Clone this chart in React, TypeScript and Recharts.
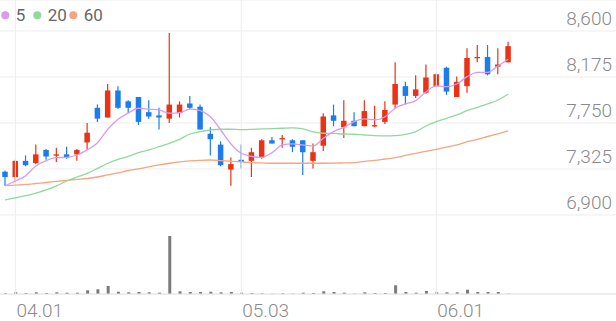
import React from 'react';
import { ComposedChart, Bar, Line, XAxis, YAxis, CartesianGrid, ReferenceLine } from 'recharts';

const dates = [
  '03.31',
  '04.01', '04.02', '04.05', '04.06', '04.07', '04.08', '04.09', '04.12', '04.13', '04.14',
  '04.15', '04.16', '04.19', '04.20', '04.21', '04.22', '04.23', '04.26', '04.27', '04.28',
  '04.29', '04.30',
  '05.03', '05.04', '05.06', '05.07', '05.10', '05.11', '05.12', '05.13', '05.14', '05.17',
  '05.18', '05.20', '05.21', '05.24', '05.25', '05.26', '05.27', '05.28', '05.31',
  '06.01', '06.02', '06.03', '06.04', '06.07', '06.08', '06.09', '06.10',
];

const opens = [
  7300, 7250, 7400, 7380, 7500, 7450, 7460, 7460, 7570, 7890,
  7800, 8050, 7950, 7990, 7850, 7820, 7790, 7840, 7930, 7900,
  7650, 7550, 7320, 7410, 7400, 7430, 7590, 7600, 7590, 7590,
  7400, 7540, 7820, 7710, 7770, 7720, 7720, 7760, 7920, 8090,
  8000, 8030, 8090, 8260, 7990, 8090, 8350, 8360, 8270, 8310,
];
const highs = [
  7310, 7410, 7450, 7550, 7510, 7520, 7530, 7510, 7750, 7920,
  8110, 8090, 7960, 7990, 7960, 7890, 8580, 7950, 8000, 7920,
  7710, 7580, 7430, 7550, 7520, 7600, 7620, 7640, 7600, 7590,
  7560, 7840, 7920, 7960, 7850, 7960, 7910, 7950, 8310, 8130,
  8190, 8290, 8210, 8270, 8180, 8440, 8470, 8470, 8440, 8500,
];
const lows = [
  7170, 7200, 7350, 7370, 7410, 7390, 7420, 7400, 7500, 7760,
  7800, 7880, 7840, 7730, 7790, 7690, 7750, 7800, 7880, 7690,
  7450, 7350, 7170, 7330, 7250, 7420, 7560, 7520, 7480, 7270,
  7330, 7490, 7720, 7610, 7720, 7720, 7710, 7740, 7880, 7920,
  7980, 8020, 8080, 8010, 7990, 8030, 8310, 8190, 8200, 8310,
];
const closes = [
  7250, 7400, 7360, 7460, 7440, 7460, 7430, 7500, 7660, 7790,
  8050, 7890, 7890, 7760, 7810, 7800, 7920, 7920, 7890, 7690,
  7600, 7360, 7370, 7390, 7480, 7590, 7560, 7610, 7530, 7480,
  7480, 7810, 7770, 7770, 7720, 7860, 7730, 7870, 8110, 8000,
  8060, 8170, 8200, 8040, 8130, 8350, 8360, 8200, 8290, 8460,
];
const volumes = [
  7000, 17000, 10000, 17000, 10000, 17000, 13000, 13000, 37000, 47000,
  80000, 23000, 17000, 20000, 17000, 13000, 580000, 27000, 20000, 20000,
  23000, 17000, 20000, 13000, 10000, 7000, 3000, 7000, 3000, 13000,
  10000, 27000, 20000, 13000, 3000, 17000, 10000, 10000, 87000, 20000,
  13000, 30000, 17000, 17000, 17000, 43000, 20000, 20000, 20000, 3000,
];
const ma5 = [
  7170, 7214, 7263, 7353, 7402, 7429, 7433, 7454, 7501, 7568,
  7692, 7784, 7842, 7886, 7877, 7870, 7840, 7845, 7877, 7864,
  7808, 7685, 7556, 7470, 7442, 7433, 7476, 7547, 7556, 7547,
  7538, 7609, 7670, 7710, 7762, 7787, 7778, 7808, 7886, 7926,
  7956, 8039, 8092, 8085, 8110, 8178, 8218, 8218, 8277, 8339,
];
const ma20 = [
  7039, 7057, 7078, 7103, 7131, 7168, 7214, 7251, 7285, 7330,
  7378, 7413, 7441, 7476, 7501, 7531, 7562, 7599, 7648, 7670,
  7685, 7692, 7692, 7688, 7690, 7695, 7697, 7701, 7704, 7695,
  7667, 7655, 7653, 7648, 7646, 7639, 7633, 7630, 7633, 7644,
  7670, 7722, 7762, 7793, 7824, 7864, 7895, 7926, 7962, 8018,
];
const ma60 = [
  7171, 7175, 7182, 7191, 7200, 7210, 7219, 7228, 7237, 7251,
  7270, 7288, 7311, 7325, 7344, 7362, 7378, 7390, 7399, 7405,
  7408, 7402, 7396, 7390, 7383, 7381, 7378, 7378, 7378, 7378,
  7378, 7378, 7379, 7381, 7383, 7395, 7404, 7417, 7429, 7450,
  7470, 7488, 7507, 7526, 7547, 7577, 7599, 7625, 7650, 7676,
];

const priceTicks = [6900, 7325, 7750, 8175, 8600];
const dateTicks = ['04.01', '05.03', '06.01'];
const emptySlots = 10;

const legendItems = [
  { name: '5', color: '#d59cf1' },
  { name: '20', color: '#8fd99d' },
  { name: '60', color: '#f8a47e' },
];

const RED = '#ea3214';
const BLUE = '#1b7deb';

const rows = Array.from({ length: dates.length + emptySlots }, (_, i) => {
  if (i < dates.length) {
    return {
      date: dates[i],
      open: opens[i],
      high: highs[i],
      low: lows[i],
      close: closes[i],
      range: [lows[i], highs[i]],
      volume: volumes[i],
      ma5: ma5[i],
      ma20: ma20[i],
      ma60: ma60[i],
    };
  }
  return { date: '_' + i };
});

const Candle = (props: any) => {
  const { x, y, width, height, payload } = props;
  if (!payload || payload.open == null) return <g />;
  const { open, close, high, low } = payload;
  const up = close >= open;
  const color = up ? RED : BLUE;
  const cx = x + width / 2;
  const top = Math.min(y, y + height);
  const h = Math.abs(height);
  const span = high - low || 1;
  const py = (v: number) => top + ((high - v) / span) * h;
  const bTop = py(Math.max(open, close));
  const bBot = py(Math.min(open, close));
  const bw = 5.5;
  return (
    <g>
      <line x1={cx} x2={cx} y1={top} y2={top + h} stroke={color} strokeWidth={1.2} />
      <rect x={cx - bw / 2} y={bTop} width={bw} height={Math.max(bBot - bTop, 1.3)} fill={color} />
    </g>
  );
};

const PriceTick = (props: any) => {
  const { y, payload } = props;
  return (
    <text x={612} y={y - 5.5} textAnchor="end" fontSize={19} fill="#8a8a8a" fontFamily="Roboto" fontWeight={300}>
      {payload.value.toLocaleString('en-US')}
    </text>
  );
};

const DateTick = (props: any) => {
  const { x, y, payload } = props;
  if (!dateTicks.includes(payload.value)) return <g />;
  return (
    <text x={x + 1} y={y + 22.7} textAnchor="start" fontSize={19} fill="#8a8a8a" fontFamily="Roboto" fontWeight={300}>
      {payload.value}
    </text>
  );
};

export default function App() {
  return (
    <div style={{ position: 'absolute', left: 0, top: 0, width: 616, height: 321, background: '#fff' }}>
      <ComposedChart width={616} height={321} data={rows} margin={{ top: 0, right: 0, bottom: 0, left: 0 }}>
        <CartesianGrid xAxisId="p" yAxisId="p" vertical={false} stroke="#ededed" strokeWidth={1} />
        <XAxis
          xAxisId="p"
          dataKey="date"
          type="category"
          interval={0}
          height={27}
          tickSize={0}
          tickMargin={0}
          tickLine={false}
          axisLine={{ stroke: '#e4e4e4' }}
          tick={<DateTick />}
        />
        <XAxis xAxisId="v" dataKey="date" type="category" hide />
        <YAxis
          yAxisId="p"
          orientation="right"
          mirror
          domain={[6170, 8886]}
          ticks={priceTicks}
          allowDataOverflow
          axisLine={false}
          tickLine={false}
          tick={<PriceTick />}
        />
        <YAxis yAxisId="v" hide domain={[0, 2940000]} allowDataOverflow />
        {dateTicks.map((d) => (
          <ReferenceLine key={d} xAxisId="p" yAxisId="p" x={d} stroke="#ededed" strokeWidth={1} />
        ))}
        <Bar xAxisId="v" yAxisId="v" dataKey="volume" fill="#7b7b7b" barSize={3} isAnimationActive={false} />
        <Line xAxisId="p" yAxisId="p" type="monotone" dataKey="ma60" stroke="#f8a47e" strokeWidth={1.3} dot={false} activeDot={false} isAnimationActive={false} />
        <Line xAxisId="p" yAxisId="p" type="monotone" dataKey="ma20" stroke="#8fd99d" strokeWidth={1.3} dot={false} activeDot={false} isAnimationActive={false} />
        <Line xAxisId="p" yAxisId="p" type="monotone" dataKey="ma5" stroke="#d59cf1" strokeWidth={1.3} dot={false} activeDot={false} isAnimationActive={false} />
        <Bar xAxisId="p" yAxisId="p" dataKey="range" barSize={6} shape={<Candle />} isAnimationActive={false} />
      </ComposedChart>
      <svg width={120} height={30} style={{ position: 'absolute', left: 0, top: 0 }}>
        {legendItems.map((it, i) => {
          const x0 = [5.3, 37.3, 73.3][i];
          return (
            <g key={it.name}>
              <circle cx={x0} cy={15.2} r={4} fill={it.color} />
              <text x={x0 + 10.5} y={21.3} fontSize={17} fill="#666" fontFamily="Roboto">
                {it.name}
              </text>
            </g>
          );
        })}
      </svg>
    </div>
  );
}
